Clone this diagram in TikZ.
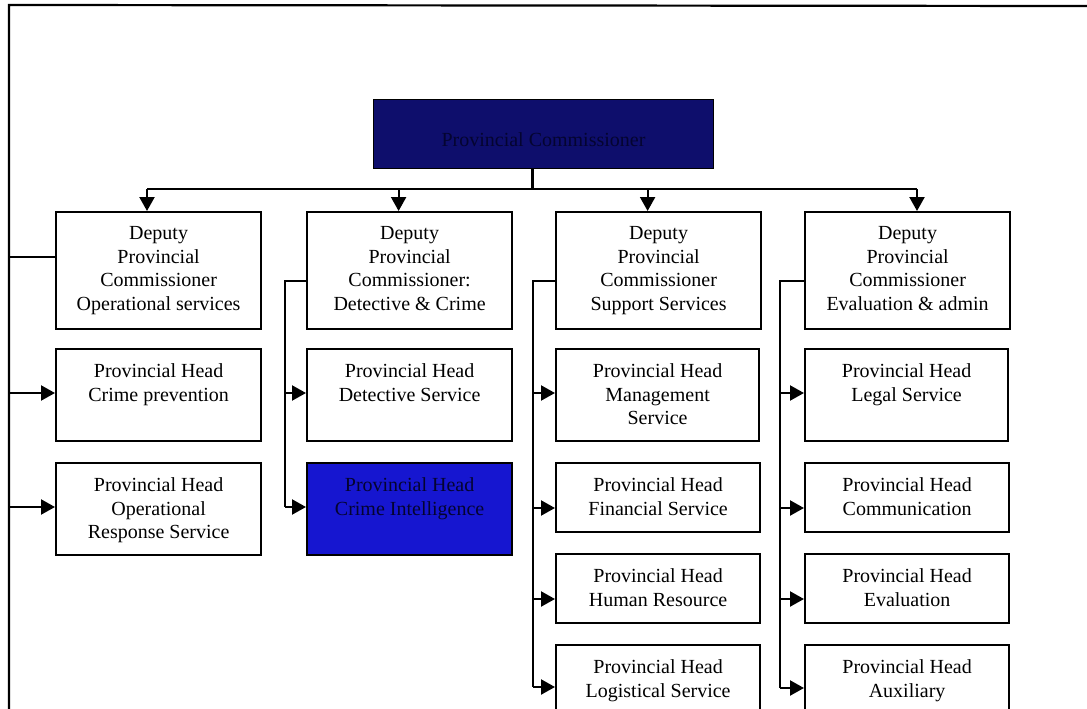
\documentclass[tikz,border=0pt]{standalone}
\usepackage{fontspec}
\setmainfont{Liberation Serif}
\usetikzlibrary{arrows.meta}
\definecolor{navybox}{RGB}{14,14,108}
\definecolor{bluebox}{RGB}{22,22,208}
\definecolor{darkink}{RGB}{4,4,48}
\begin{document}
\begin{tikzpicture}[x=1pt,y=-1pt,
  ln/.style={line width=2.2pt},
  arr/.style={line width=2.2pt,-{Triangle[length=14pt,width=15pt]}},
  bx/.style={draw,line width=2.2pt,fill=white,inner sep=0pt,anchor=north west},
  lbl/.style={anchor=north,yshift=-15.5pt,inner sep=0pt,align=center,
    font=\fontsize{20}{23.5}\selectfont},
  deputy/.style={bx,minimum width=205pt,minimum height=117pt},
  headbig/.style={bx,minimum width=205pt,minimum height=92pt},
  headsmall/.style={bx,minimum width=204pt,minimum height=69pt},
  headcut/.style={bx,minimum width=204pt,minimum height=90pt}]
\useasboundingbox (0,0) rectangle (1087,709);
\clip (0,0) rectangle (1087,709);

% outer frame (top and left side); the left side also serves as the first bus
\draw[ln] (1087,6) -- (9,5) -- (9,712);

% provincial commissioner
\node[bx,fill=navybox,line width=1pt,minimum width=340pt,minimum height=69pt] (pc) at (373,99) {};
\node[lbl,text=darkink,yshift=-18pt] (pct) at (pc.north) {Provincial Commissioner};

% deputy provincial commissioners
\node[deputy] (d1) at (55,211) {};
\node[deputy] (d2) at (306,211) {};
\node[deputy] (d3) at (555,211) {};
\node[deputy] (d4) at (804,211) {};
\node[lbl] (d1t) at (d1.north) {Deputy\\Provincial\\Commissioner\\Operational services};
\node[lbl] (d2t) at (d2.north) {Deputy\\Provincial\\Commissioner:\\Detective \& Crime};
\node[lbl] (d3t) at (d3.north) {Deputy\\Provincial\\Commissioner\\Support Services};
\node[lbl] (d4t) at (d4.north) {Deputy\\Provincial\\Commissioner\\Evaluation \& admin};

% provincial heads
\node[headbig] (c1a) at (55,348) {};
\node[headbig] (c1b) at (55,462) {};
\node[headbig] (c2a) at (306,348) {};
\node[headbig,fill=bluebox] (c2b) at (306,462) {};
\node[headbig,minimum width=203pt] (c3a) at (555,348) {};
\node[headsmall] (c3b) at (555,462) {};
\node[headsmall] (c3c) at (555,553) {};
\node[headcut] (c3d) at (555,644) {};
\node[headbig,minimum width=203pt] (c4a) at (804,348) {};
\node[headsmall] (c4b) at (804,462) {};
\node[headsmall] (c4c) at (804,553) {};
\node[headcut] (c4d) at (804,644) {};

\node[lbl] (c1at) at (c1a.north) {Provincial Head\\Crime prevention};
\node[lbl] (c1bt) at (c1b.north) {Provincial Head\\Operational\\Response Service};
\node[lbl] (c2at) at (c2a.north) {Provincial Head\\Detective Service};
\node[lbl,text=darkink] (c2bt) at (c2b.north) {Provincial Head\\Crime Intelligence};
\node[lbl] (c3at) at (c3a.north) {Provincial Head\\Management\\Service};
\node[lbl] (c3bt) at (c3b.north) {Provincial Head\\Financial Service};
\node[lbl] (c3ct) at (c3c.north) {Provincial Head\\Human Resource};
\node[lbl] (c3dt) at (c3d.north) {Provincial Head\\Logistical Service};
\node[lbl] (c4at) at (c4a.north) {Provincial Head\\Legal Service};
\node[lbl] (c4bt) at (c4b.north) {Provincial Head\\Communication};
\node[lbl] (c4ct) at (c4c.north) {Provincial Head\\Evaluation};
\node[lbl] (c4dt) at (c4d.north) {Provincial Head\\Auxiliary};

% commissioner to deputies
\coordinate (j1) at (147,189);
\coordinate (j4) at (917,189);
\draw[ln] ([xshift=-11pt]pc.south) -- ([xshift=-11pt]pc.south |- j1);
\draw[ln] (j1) -- (j4);
\draw[arr] (j1) -- (j1 |- d1.north);
\draw[arr] ([xshift=-11pt]d2.north |- j1) -- ([xshift=-11pt]d2.north);
\draw[arr] ([xshift=-11pt]d3.north |- j1) -- ([xshift=-11pt]d3.north);
\draw[arr] (j4) -- (j4 |- d4.north);

% bus lines
\coordinate (b1) at (9,257);
\coordinate (b2) at (285,281);
\coordinate (b3) at (533,281);
\coordinate (b4) at (780,281);

\draw[ln] ([yshift=-46pt]d1.north west) -- ([yshift=-46pt]d1.north west -| b1);
\draw[arr] ([yshift=-45pt]c1a.north west -| b1) -- ([yshift=-45pt]c1a.north west);
\draw[arr] ([yshift=-45pt]c1b.north west -| b1) -- ([yshift=-45pt]c1b.north west);

\draw[ln] ([yshift=-70pt]d2.north west) -- ([yshift=-70pt]d2.north west -| b2)
  -- ([yshift=-45pt]c2b.north west -| b2);
\draw[arr] ([yshift=-45pt]c2a.north west -| b2) -- ([yshift=-45pt]c2a.north west);
\draw[arr] ([yshift=-45pt]c2b.north west -| b2) -- ([yshift=-45pt]c2b.north west);

\draw[ln] ([yshift=-70pt]d3.north west) -- ([yshift=-70pt]d3.north west -| b3)
  -- ([yshift=-43pt]c3d.north west -| b3);
\draw[arr] ([yshift=-45pt]c3a.north west -| b3) -- ([yshift=-45pt]c3a.north west);
\draw[arr] ([yshift=-46pt]c3b.north west -| b3) -- ([yshift=-46pt]c3b.north west);
\draw[arr] ([yshift=-46pt]c3c.north west -| b3) -- ([yshift=-46pt]c3c.north west);
\draw[arr] ([yshift=-43pt]c3d.north west -| b3) -- ([yshift=-43pt]c3d.north west);

\draw[ln] ([yshift=-70pt]d4.north west) -- ([yshift=-70pt]d4.north west -| b4)
  -- ([yshift=-44pt]c4d.north west -| b4);
\draw[arr] ([yshift=-45pt]c4a.north west -| b4) -- ([yshift=-45pt]c4a.north west);
\draw[arr] ([yshift=-46pt]c4b.north west -| b4) -- ([yshift=-46pt]c4b.north west);
\draw[arr] ([yshift=-46pt]c4c.north west -| b4) -- ([yshift=-46pt]c4c.north west);
\draw[arr] ([yshift=-44pt]c4d.north west -| b4) -- ([yshift=-44pt]c4d.north west);
\end{tikzpicture}
\end{document}
